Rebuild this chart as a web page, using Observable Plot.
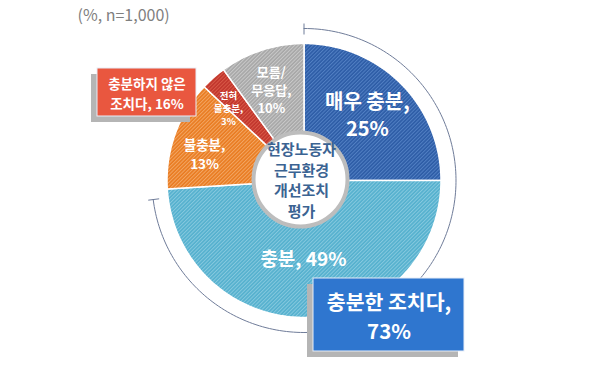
<!DOCTYPE html>
<html><head><meta charset="utf-8">
<script src="https://cdn.jsdelivr.net/npm/d3@7"></script>
<script src="https://cdn.jsdelivr.net/npm/@observablehq/plot@0.6"></script>
<style>
body{margin:0;background:#fff;font-family:"Noto Sans CJK KR","Noto Sans",sans-serif}
#chart svg{display:block}
</style>
</head><body><div id="chart"></div>
<script>
// ---- data ----
const categories = ["매우 충분", "충분", "불충분", "전혀 불충분", "모름/무응답"];
const values = [25, 49, 13, 3, 10];
const sliceLabels = ["매우 충분,\n25%", "충분, 49%", "불충분,\n13%", "전혀\n불충분,\n3%", "모름/\n무응답,\n10%"];
const groupNames = ["충분한 조치다,", "충분하지 않은\n조치다,"];
const groupValues = [73, 16];
const centerTitle = ["현장노동자", "근무환경", "개선조치", "평가"];
const note = "(%, n=1,000)";

// ---- layout / style ----
const W = 605, H = 366;
const cx = 303.5, cy = 180, R = 137, R0 = 40;
const baseColors = ["#2d5ca6", "#54b0ce", "#e97b21", "#c1352c", "#a7a7a7"];
const stripeColors = ["#5280c4", "#86c9df", "#f3a663", "#d95a48", "#c9c9c9"];
const labelR = [92, 77, 103, 105, 97];
const labelShift = [-1.5, 2.2, -4.6, -4.6, -1.7];
const labelSize = [20, 19, 13.5, 9.5, 13];
const groupBoxes = [
  {x1: 313, x2: 464, y1: 278, y2: 351, fill: "#2f76cf", size: 20.5, lh: 1.42},
  {x1: 97, x2: 196, y1: 68, y2: 116, fill: "#e9573f", size: 13.5, lh: 1.45}
];
const bracketR = 152;
const hub = {x: 300, y: 179, r: 47};

// ---- geometry from data ----
const pie = d3.pie().sort(null).value(d => d)(values);
const pt = (a, r) => ({x: cx + r * Math.sin(a), y: cy - r * Math.cos(a)});
const slicePts = [];
pie.forEach((p, i) => {
  const n = Math.max(4, Math.round((p.endAngle - p.startAngle) * 60));
  for (let k = 0; k <= n; k++) slicePts.push({cat: categories[i], ...pt(p.startAngle + (p.endAngle - p.startAngle) * k / n, R)});
  for (let k = n; k >= 0; k--) slicePts.push({cat: categories[i], ...pt(p.startAngle + (p.endAngle - p.startAngle) * k / n, R0)});
});
const labels = pie.map((p, i) => {
  const a = (p.startAngle + p.endAngle) / 2 + labelShift[i] * Math.PI / 180;
  return {text: sliceLabels[i], size: labelSize[i], ...pt(a, labelR[i])};
});
const bracketEnd = groupValues[0] / 100 * 2 * Math.PI;
const bracketPts = d3.range(0, 201).map(k => pt(bracketEnd * k / 200, bracketR));
const ticks = [0, bracketEnd].map(a => {
  const p1 = pt(a, bracketR - 6), p2 = pt(a, bracketR + 5);
  return {x1: p1.x, y1: p1.y, x2: p2.x, y2: p2.y};
});
const boxes = groupBoxes.map((b, i) => ({...b, text: groupNames[i] + (i === 0 ? "\n" : " ") + groupValues[i] + "%"}));
const shadows = boxes.map(b => ({x1: b.x1 - 6, x2: b.x2 - 6, y1: b.y1 + 6, y2: b.y2 + 6}));

const svg = Plot.plot({
  width: W, height: H, margin: 0,
  style: {fontFamily: '"Noto Sans CJK KR", sans-serif', background: "white"},
  x: {domain: [0, W], range: [0, W], axis: null},
  y: {domain: [0, H], range: [0, H], axis: null},
  color: {type: "ordinal", domain: categories, range: categories.map((_, i) => `url(#pat${i})`)},
  marks: [
    Plot.line(slicePts, {x: "x", y: "y", z: "cat", fill: "cat", stroke: "white", strokeWidth: 1.5, curve: "linear-closed"}),
    Plot.line(bracketPts, {x: "x", y: "y", stroke: "#6f7c99", strokeWidth: 1}),
    Plot.link(ticks, {x1: "x1", y1: "y1", x2: "x2", y2: "y2", stroke: "#6f7c99", strokeWidth: 1}),
    Plot.dot([hub], {x: "x", y: "y", r: hub.r, fill: "white", stroke: "#bdbdbd", strokeWidth: 4}),
    Plot.text([centerTitle.join("\n")], {x: () => hub.x + 1, y: () => hub.y, text: d => d, fontSize: 15, fontWeight: "bold", fill: "#3b6392", lineHeight: 1.36}),
    Plot.text(labels, {x: "x", y: "y", text: "text", fontSize: "size", fontWeight: "bold", fill: "white", lineHeight: 1.38}),
    Plot.rect(shadows, {x1: "x1", x2: "x2", y1: "y1", y2: "y2", fill: "#b5b5b5"}),
    Plot.rect(boxes, {x1: "x1", x2: "x2", y1: "y1", y2: "y2", fill: "fill", stroke: "#e8eef8", strokeWidth: 1}),
    ...boxes.map(b => Plot.text([b], {x: d => (d.x1 + d.x2) / 2, y: d => (d.y1 + d.y2) / 2, text: "text", fontSize: b.size, fontWeight: "bold", fill: "white", lineHeight: b.lh})),
    Plot.text([note], {frameAnchor: "top-left", dx: 77, dy: 9, text: d => d, fontSize: 16, fill: "#7f7f7f", textAnchor: "start"})
  ]
});
const defs = document.createElementNS("http://www.w3.org/2000/svg", "defs");
defs.innerHTML = baseColors.map((c, i) =>
  `<pattern id="pat${i}" width="2.6" height="2.6" patternUnits="userSpaceOnUse" patternTransform="rotate(45)">` +
  `<rect width="2.6" height="2.6" fill="${c}"/><rect width="1" height="2.6" fill="${stripeColors[i]}"/></pattern>`).join("");
svg.insertBefore(defs, svg.firstChild);
document.getElementById("chart").appendChild(svg);
</script>
</body></html>
